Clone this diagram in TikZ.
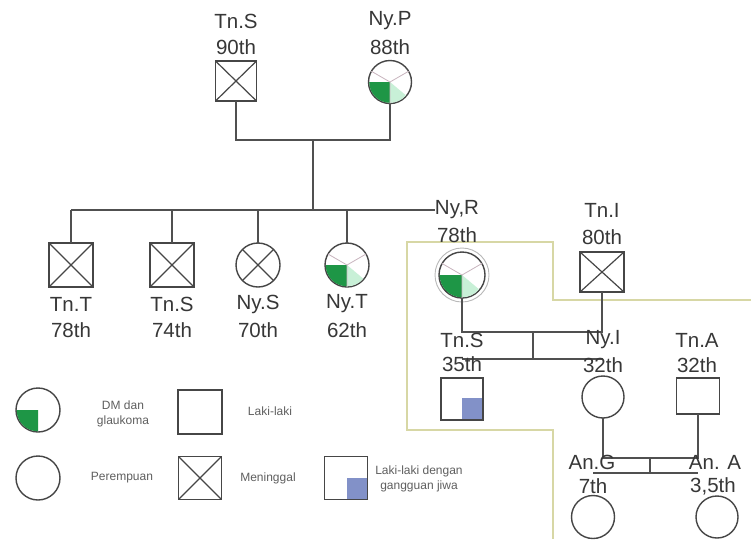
\documentclass[tikz,border=0pt]{standalone}
\usepackage{fontspec}
\setmainfont{Liberation Sans}
\definecolor{lc}{RGB}{80,80,80}
\definecolor{sc}{RGB}{70,70,70}
\definecolor{tc}{RGB}{55,55,55}
\definecolor{lt}{RGB}{95,95,95}
\definecolor{dmg}{RGB}{30,150,70}
\definecolor{mint}{RGB}{200,240,215}
\definecolor{pk}{RGB}{200,180,190}
\definecolor{blu}{RGB}{130,145,200}
\definecolor{yel}{RGB}{215,215,165}
\newcommand{\dmquarter}[2]{\fill[dmg] (#1.center) -- ++(-#2,0) arc[start angle=180, end angle=90, radius=#2] -- cycle;}
\newcommand{\mintwedge}[2]{\fill[mint] (#1.center) -- ++(0,#2) arc[start angle=90, end angle=40, radius=#2] -- cycle;}
\newcommand{\spokes}[1]{\draw[pk, line width=0.8pt] (#1.center) -- (#1.30) (#1.center) -- (#1.150) (#1.center) -- (#1.270);}
\begin{document}
\begin{tikzpicture}[x=1pt,y=-1pt,
  con/.style={draw=lc, line width=1.5pt},
  sym/.style={draw=sc, line width=1.4pt, inner sep=0pt, outer sep=0pt},
  sq/.style={sym, rectangle, minimum width=42pt, minimum height=42pt},
  ci/.style={sym, circle, minimum size=44pt},
  lbl/.style={font=\fontsize{20.5}{20.5}\selectfont, text=tc, inner sep=0pt},
  leg/.style={font=\fontsize{12}{14.5}\selectfont, text=lt, align=center, inner sep=0pt},
  dead/.style={path picture={\draw[sc, line width=1.2pt] (path picture bounding box.north west) -- (path picture bounding box.south east) (path picture bounding box.south west) -- (path picture bounding box.north east);}},
]
\useasboundingbox (0,0) rectangle (751,539);
\fill[white] (0,0) rectangle (751,539);

% yellow outline
\draw[yel, line width=1.5pt] (751,300) -- (553,300) -- (553,242) -- (407,242) -- (407,430) -- (553,430) -- (553,539);

% ---------- generation I ----------
\node[sq, dead, minimum width=41pt, minimum height=40pt] (tnsA) at (236,81) {};
\node[ci, minimum size=43pt] (nyp) at (390,82) {};
\dmquarter{nyp}{20.8}
\mintwedge{nyp}{20.8}
\spokes{nyp}
\node[lbl] (tnsAn) at (236,21) {Tn.S};
\node[lbl] (tnsAa) at (236,47) {90th};
\node[lbl] (nypn) at (390,21) {Ny.P};
\node[lbl] (nypa) at (390,47) {88th};

\coordinate (m1) at (313,140);
\coordinate (sib) at (313,210);
\draw[con] (tnsA.south) |- (m1) -| (nyp.south);
\draw[con] (m1) -- (sib);

% ---------- generation II ----------
\node[sq, dead, minimum size=44pt] (tnt) at (71,265) {};
\node[sq, dead, minimum size=44pt] (tnsB) at (172,265) {};
\node[ci] (nys) at (258,265) {};
\draw[sc, line width=1.2pt] (nys.45) -- (nys.225) (nys.135) -- (nys.315);
\node[ci] (nyt) at (347,265) {};
\dmquarter{nyt}{21.3}
\mintwedge{nyt}{21.3}
\spokes{nyt}

\node[lbl] (tntn) at (71,304) {Tn.T};
\node[lbl] (tnta) at (71,330) {78th};
\node[lbl] (tnsBn) at (172,304) {Tn.S};
\node[lbl] (tnsBa) at (172,330) {74th};
\node[lbl] (nysn) at (258,304) {Ny.S};
\node[lbl] (nysa) at (258,330) {70th};
\node[lbl] (nytn) at (347,304) {Ny.T};
\node[lbl] (nyta) at (347,330) {62th};

\node[lbl] (nyrn) at (457,210) {Ny,R};
\node[lbl] (nyra) at (457,235) {78th};
\node[ci, draw=gray!55, line width=0.9pt, minimum size=54pt] (nyrO) at (462,275) {};
\node[ci, minimum size=46pt] (nyr) at (462,275) {};
\dmquarter{nyr}{22.3}
\mintwedge{nyr}{22.3}
\spokes{nyr}

\draw[con] (tnt.north |- sib) -- (nyrn.west |- sib);
\foreach \n in {tnt,tnsB,nys,nyt} \draw[con] (\n.north |- sib) -- (\n.north);

\node[lbl] (tnin) at (602,210) {Tn.I};
\node[lbl] (tnia) at (602,237) {80th};
\node[sq, dead, minimum width=44pt, minimum height=40pt] (tni) at (602,272) {};

\coordinate (mar1) at (533,332);
\coordinate (ch1) at (533,359);
\draw[con] (nyr.south) |- (mar1) -| (tni.south);
\draw[con] (mar1) -- (ch1);

% ---------- generation III ----------
\node[sq] (tnsC) at (462,399) {};
\fill[blu] (tnsC.south east) rectangle ++(-21,-22);
\draw[sc, line width=1.4pt] (tnsC.south west) rectangle (tnsC.north east);
\node[ci, minimum size=42pt] (nyi) at (603,397) {};
\node[sq, minimum width=43pt, minimum height=36pt] (tna) at (698,396) {};

\draw[con] (tnsC.north |- ch1) -- (nyi.north |- ch1);

\node[lbl] (tnsCn) at (462,340) {Tn.S};
\node[lbl] (tnsCa) at (462,364) {35th};
\node[lbl] (nyin) at (603,340) {Ny.I};
\node[lbl] (nyia) at (603,365) {32th};
\node[lbl] (tnan) at (697,340) {Tn.A};
\node[lbl] (tnaa) at (697,365) {32th};

\coordinate (mar2) at (650,458);
\coordinate (ch2) at (650,473);
\draw[con] (nyi.south) |- (mar2) -| (tna.south);
\draw[con] (mar2) -- (ch2);

% ---------- generation IV ----------
\node[ci, minimum size=43pt] (ang) at (593,517) {};
\node[ci, minimum size=42pt] (ana) at (717,517) {};
\draw[con] (ang.north |- ch2) -- (tna.south |- ch2);
\node[lbl] (angn) at (592,462) {An.G};
\node[lbl] (anga) at (593,486) {7th};
\node[lbl] (anan) at (715,462) {An. A};
\node[lbl] (anaa) at (713,486) {3,5th};

% ---------- legend ----------
\node[ci] (lg1) at (38,410) {};
\dmquarter{lg1}{21.3}
\node[leg] (lg1t) at (123,414) {DM dan\\glaukoma};
\node[sq, minimum size=44pt] (lg2) at (200,412) {};
\node[leg] (lg2t) at (270,411) {Laki-laki};
\node[ci] (lg3) at (38,478) {};
\node[leg] (lg3t) at (122,478) {Perempuan};
\node[sq, dead, minimum size=43pt] (lg4) at (200,478) {};
\node[leg] (lg4t) at (268,478) {Meninggal};
\node[sq, minimum size=43pt] (lg5) at (346,478) {};
\fill[blu] (lg5.south east) rectangle ++(-21,-22);
\draw[sc, line width=1.4pt] (lg5.south west) rectangle (lg5.north east);
\node[leg] (lg5t) at (419,479) {Laki-laki dengan\\gangguan jiwa};
\end{tikzpicture}
\end{document}
